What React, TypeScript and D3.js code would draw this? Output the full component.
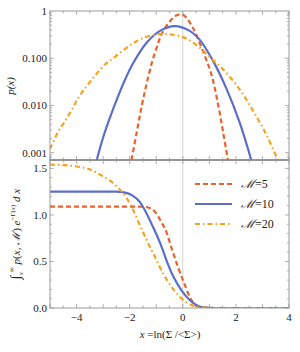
import React from 'react'
import * as d3 from 'd3'

// top panel: p(x)
const m5TopX = [-1.93, -1.74, -1.55, -1.36, -1.15, -0.95, -0.8, -0.49, -0.25, -0.1, 0.075, 0.39, 0.76, 1.08, 1.33, 1.52, 1.7]
const m5TopY = [0.0007, 0.0026, 0.0095, 0.029, 0.085, 0.19, 0.32, 0.6, 0.8, 0.85, 0.78, 0.43, 0.14, 0.045, 0.0105, 0.0027, 0.0007]

const m10TopX = [-3.24, -3.0, -2.74, -2.43, -2.12, -1.85, -1.37, -0.86, -0.3, 0.26, 0.64, 1.14, 1.64, 2.14, 2.58]
const m10TopY = [0.0007, 0.0021, 0.0056, 0.016, 0.041, 0.082, 0.21, 0.38, 0.48, 0.38, 0.245, 0.088, 0.023, 0.0044, 0.0007]

const m20TopX = [-5.0, -4.69, -4.44, -4.18, -3.94, -3.68, -3.43, -3.18, -2.87, -2.62, -2.12, -1.62, -0.99, -0.49, 0.01, 0.52, 1.02, 1.52, 2.14, 2.64, 3.15, 3.58]
const m20TopY = [0.0012, 0.0028, 0.0046, 0.008, 0.0143, 0.023, 0.035, 0.052, 0.079, 0.1, 0.165, 0.25, 0.32, 0.32, 0.28, 0.19, 0.105, 0.058, 0.022, 0.0078, 0.0024, 0.0007]

// bottom panel: integral, linear axis
const m5BotX = [-5, -2, -1.5, -1.3, -1.05, -0.82, -0.61, -0.43, -0.18, 0.075, 0.26, 0.49, 0.8, 1.2, 4]
const m5BotY = [1.09, 1.09, 1.088, 1.08, 1.035, 0.93, 0.81, 0.65, 0.44, 0.25, 0.12, 0.03, 0.003, 0, 0]

const m10BotX = [-5, -2.5, -2.26, -1.9, -1.62, -1.12, -0.8, -0.61, -0.36, -0.05, 0.26, 0.52, 0.8, 1.2, 4]
const m10BotY = [1.25, 1.25, 1.245, 1.21, 1.14, 0.87, 0.66, 0.51, 0.34, 0.19, 0.086, 0.03, 0.006, 0, 0]

const m20BotX = [-5, -4.5, -4, -3.5, -3.1, -2.75, -2.5, -2.24, -1.93, -1.74, -1.36, -1.05, -0.74, -0.43, -0.11, 0.2, 0.5, 0.8, 1.2, 4]
const m20BotY = [1.54, 1.535, 1.52, 1.49, 1.43, 1.37, 1.31, 1.23, 1.09, 0.97, 0.73, 0.55, 0.37, 0.23, 0.12, 0.05, 0.015, 0.003, 0, 0]

const legendLabels = ['5', '10', '20']
const xTickLabels = [-4, -2, 0, 2, 4]
const topTickValues = [1, 0.1, 0.01, 0.001]
const topTickLabels = ['1', '0.100', '0.010', '0.001']
const botTickValues = [0, 0.5, 1.0, 1.5]

const colors = ['#e8632b', '#5b6ec8', '#f3a31f']
const dashes = ['5,3', '', '5,3,1.5,3']

const W = 300
const H = 352
const L = 50
const R = 289
const T = 11
const MID = 160
const B = 308
const font = '"Liberation Serif", "DejaVu Serif", serif'

const zip = (xs: number[], ys: number[]) => xs.map((x, i) => [x, ys[i]] as [number, number])

export default function App() {
  const x = d3.scaleLinear().domain([-5, 4]).range([L, R])
  const yTop = d3.scaleLog().domain([0.0007, 1]).range([MID, T])
  const yBot = d3.scaleLinear().domain([0, 1.59]).range([B, MID])

  const lineTop = d3
    .line<[number, number]>()
    .x((d) => x(d[0]))
    .y((d) => yTop(d[1]))
    .curve(d3.curveCatmullRom.alpha(0.5))
  const lineBot = d3
    .line<[number, number]>()
    .x((d) => x(d[0]))
    .y((d) => yBot(d[1]))
    .curve(d3.curveMonotoneX)

  const topSeries = [zip(m5TopX, m5TopY), zip(m10TopX, m10TopY), zip(m20TopX, m20TopY)]
  const botSeries = [zip(m5BotX, m5BotY), zip(m10BotX, m10BotY), zip(m20BotX, m20BotY)]

  const xMinor = d3.range(-5, 4.01, 0.5)
  const logMinor: number[] = []
  ;[0.0001, 0.001, 0.01, 0.1].forEach((d) => {
    for (let k = 1; k <= 9; k++) {
      const v = d * k
      if (v >= 0.0007 && v <= 1) logMinor.push(v)
    }
  })
  const linMinor = d3.range(0, 1.59, 0.1)
  const frame = '#999'

  const xTicks = (yEdge: number, dir: number, key: string) =>
    xMinor.map((t, i) => {
      const major = Math.abs(t - Math.round(t)) < 1e-6
      const len = major ? 4 : 2.5
      return (
        <line key={key + i} x1={x(t)} x2={x(t)} y1={yEdge} y2={yEdge + dir * len} stroke={frame} strokeWidth={0.8} />
      )
    })

  const yTicks = (vals: number[], scale: (v: number) => number, major: (v: number) => boolean, key: string) =>
    vals.map((v, i) => {
      const len = major(v) ? 4 : 2
      const yy = scale(v)
      return (
        <g key={key + i}>
          <line x1={L} x2={L + len} y1={yy} y2={yy} stroke={frame} strokeWidth={0.8} />
          <line x1={R} x2={R - len} y1={yy} y2={yy} stroke={frame} strokeWidth={0.8} />
        </g>
      )
    })

  return (
    <div style={{ position: 'absolute', left: 0, top: 0 }}>
      <svg width={W} height={H} style={{ display: 'block', background: '#fff' }} fontFamily={font}>
        <defs>
          <clipPath id="clipTop">
            <rect x={L} y={T} width={R - L} height={MID - T} />
          </clipPath>
          <clipPath id="clipBot">
            <rect x={L} y={MID} width={R - L} height={B - MID} />
          </clipPath>
        </defs>

        {/* x = 0 grid line */}
        <line x1={x(0)} x2={x(0)} y1={T} y2={B} stroke="#d4d4d4" strokeWidth={1} />

        {/* curves */}
        <g clipPath="url(#clipTop)">
          {topSeries.map((s, i) => (
            <path key={'t' + i} d={lineTop(s) || ''} fill="none" stroke={colors[i]} strokeWidth={2.2} strokeDasharray={dashes[i]} />
          ))}
        </g>
        <g clipPath="url(#clipBot)">
          {botSeries.map((s, i) => (
            <path key={'b' + i} d={lineBot(s) || ''} fill="none" stroke={colors[i]} strokeWidth={2.2} strokeDasharray={dashes[i]} />
          ))}
        </g>

        {/* frames */}
        <rect x={L} y={T} width={R - L} height={MID - T} fill="none" stroke={frame} strokeWidth={1} />
        <rect x={L} y={MID} width={R - L} height={B - MID} fill="none" stroke={frame} strokeWidth={1} />
        <line x1={L} x2={R} y1={MID} y2={MID} stroke="#777" strokeWidth={1} />

        {/* ticks */}
        {xTicks(T, 1, 'xt1')}
        {xTicks(MID, -1, 'xt2')}
        {xTicks(MID, 1, 'xt3')}
        {xTicks(B, -1, 'xt4')}
        {yTicks(logMinor, (v) => yTop(v), (v) => topTickValues.some((t) => Math.abs(t - v) < 1e-9), 'ly')}
        {yTicks(linMinor, (v) => yBot(v), (v) => Math.abs(v * 2 - Math.round(v * 2)) < 1e-6, 'ry')}

        {/* tick labels */}
        {topTickValues.map((v, i) => (
          <text key={'tl' + i} x={47} y={yTop(v)} dy="0.35em" textAnchor="end" fontSize={11} fill="#222">
            {topTickLabels[i]}
          </text>
        ))}
        {botTickValues.map((v, i) => (
          <text key={'bl' + i} x={47} y={yBot(v)} dy="0.35em" textAnchor="end" fontSize={11} fill="#222">
            {v.toFixed(1)}
          </text>
        ))}
        {xTickLabels.map((v, i) => (
          <text key={'xl' + i} x={x(v)} y={321} textAnchor="middle" fontSize={11} fill="#222">
            {v < 0 ? '\u2212' + Math.abs(v) : String(v)}
          </text>
        ))}

        {/* axis titles */}
        <text x={170} y={338} textAnchor="middle" fontSize={11} fill="#222">
          <tspan fontStyle="italic">x</tspan> =ln(Σ /&lt;Σ&gt;)
        </text>
        <text transform={`translate(14,86) rotate(-90)`} textAnchor="middle" fontSize={11} fill="#222" fontStyle="italic">
          p(x)
        </text>
        <text transform={`translate(20,234) rotate(-90)`} textAnchor="middle" fontSize={11} fill="#222">
          <tspan fontSize={14}>∫</tspan>
          <tspan fontSize={7} fontStyle="italic" dy={3}>x</tspan>
          <tspan fontSize={7} dy={-9}>∞</tspan>
          <tspan fontStyle="italic" dy={6}> p</tspan>
          <tspan>(</tspan>
          <tspan fontStyle="italic">x</tspan>
          <tspan>, </tspan>
          <tspan fontStyle="italic">ℳ</tspan>
          <tspan>) </tspan>
          <tspan fontStyle="italic">e</tspan>
          <tspan fontSize={7} dy={-5}>−Γ(</tspan>
          <tspan fontSize={7} fontStyle="italic">x</tspan>
          <tspan fontSize={7}>)</tspan>
          <tspan fontStyle="italic" dy={5}> d x</tspan>
        </text>

        {/* legend */}
        {legendLabels.map((lab, i) => {
          const yy = 184 + i * 20
          return (
            <g key={'lg' + i}>
              <line x1={195} x2={232} y1={yy} y2={yy} stroke={colors[i]} strokeWidth={2.2} strokeDasharray={dashes[i]} />
              <text x={241} y={yy} dy="0.35em" fontSize={12} fill="#222">
                <tspan fontStyle="italic">ℳ</tspan>={lab}
              </text>
            </g>
          )
        })}
      </svg>
    </div>
  )
}
